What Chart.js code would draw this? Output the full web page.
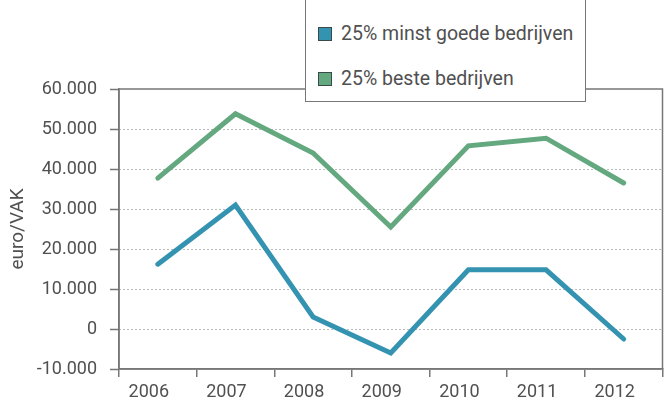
<!DOCTYPE html>
<html>
<head>
<meta charset="utf-8">
<script src="https://cdn.jsdelivr.net/npm/chart.js@4"></script>
<style>
  body { margin: 0; background: #fff; }
  .wrap { position: relative; width: 670px; height: 406px; overflow: hidden; }
  #chart { position: absolute; left: 0; top: 0; }
  .legend {
    position: absolute; left: 305px; top: -3px; width: 281px; height: 105px;
    background: #fff; border: 1.5px solid #777; box-sizing: border-box;
    font-family: Roboto, sans-serif; font-size: 19.5px; color: #505050;
  }
  .item { position: absolute; left: 12px; height: 22px; line-height: 22px; white-space: nowrap; }
  .sw { display: inline-block; width: 12px; height: 12px; border: 1px solid #3a4a4a; vertical-align: -1px; margin-right: 9px; }
</style>
</head>
<body>
<div class="wrap">
  <canvas id="chart" width="670" height="406"></canvas>
  <div class="legend" id="legend"></div>
</div>
<script>
const years = ["2006", "2007", "2008", "2009", "2010", "2011", "2012"];
const worst = [16200, 31000, 3000, -6000, 14800, 14800, -2500];
const best = [37700, 53800, 44000, 25500, 45800, 47700, 36500];
const seriesNames = ["25% minst goede bedrijven", "25% beste bedrijven"];
const seriesColors = ["#3593b2", "#63a87f"];
const yTicks = [-10000, 0, 10000, 20000, 30000, 40000, 50000, 60000];

function fmt(v) {
  const s = Math.abs(v).toString().replace(/\B(?=(\d{3})+(?!\d))/g, ".");
  return (v < 0 ? "-" : "") + s;
}

// box around the plot area (top and right edges)
const frame = {
  id: "frame",
  afterDraw(chart) {
    const { ctx, chartArea: a } = chart;
    ctx.save();
    ctx.strokeStyle = "#777";
    ctx.lineWidth = 1.5;
    ctx.strokeRect(a.left, a.top, a.right - a.left, a.bottom - a.top);
    ctx.restore();
  }
};

new Chart(document.getElementById("chart"), {
  type: "line",
  data: {
    labels: years,
    datasets: [
      { label: seriesNames[0], data: worst, borderColor: seriesColors[0] },
      { label: seriesNames[1], data: best, borderColor: seriesColors[1] }
    ]
  },
  options: {
    responsive: false,
    animation: false,
    layout: { padding: { left: 0, top: 89, right: 7.5, bottom: 0 } },
    elements: {
      line: { borderWidth: 5, tension: 0, borderJoinStyle: "miter", borderCapStyle: "round" },
      point: { radius: 0 }
    },
    plugins: { legend: { display: false }, tooltip: { enabled: false } },
    scales: {
      x: {
        offset: true,
        grid: { offset: true, drawOnChartArea: false, drawTicks: true, tickLength: 8, color: "#777", lineWidth: 1.5 },
        border: { color: "#777", width: 1.5 },
        ticks: { color: "#505050", font: { family: "Roboto", size: 18 }, padding: 5, labelOffset: -9, maxRotation: 0 },
        afterFit: s => { s.height = 37; }
      },
      y: {
        min: -10000,
        max: 60000,
        afterBuildTicks: s => { s.ticks = yTicks.map(v => ({ value: v })); },
        grid: {
          color: ctx => (ctx.tick && (ctx.tick.value === 60000 || ctx.tick.value === -10000)) ? "rgba(0,0,0,0)" : "#777",
          lineWidth: 1,
          tickColor: "#777",
          tickWidth: 1.5,
          tickLength: 9,
          tickBorderDash: []
        },
        border: { color: "#777", width: 1.5, dash: [1, 3] },
        ticks: { color: "#505050", font: { family: "Roboto", size: 18 }, padding: 13, callback: v => fmt(v) },
        title: { display: true, text: "euro/VAK", color: "#505050", font: { family: "Roboto", size: 19 }, padding: { top: 7, bottom: 0 } },
        afterFit: s => { s.width = 119; }
      }
    }
  },
  plugins: [frame]
});

const legend = document.getElementById("legend");
seriesNames.forEach((name, i) => {
  const el = document.createElement("div");
  el.className = "item";
  el.style.top = (i === 0 ? 25 : 70) + "px";
  el.innerHTML = `<span class="sw" style="background:${seriesColors[i]}"></span>${name}`;
  legend.appendChild(el);
});
</script>
</body>
</html>
